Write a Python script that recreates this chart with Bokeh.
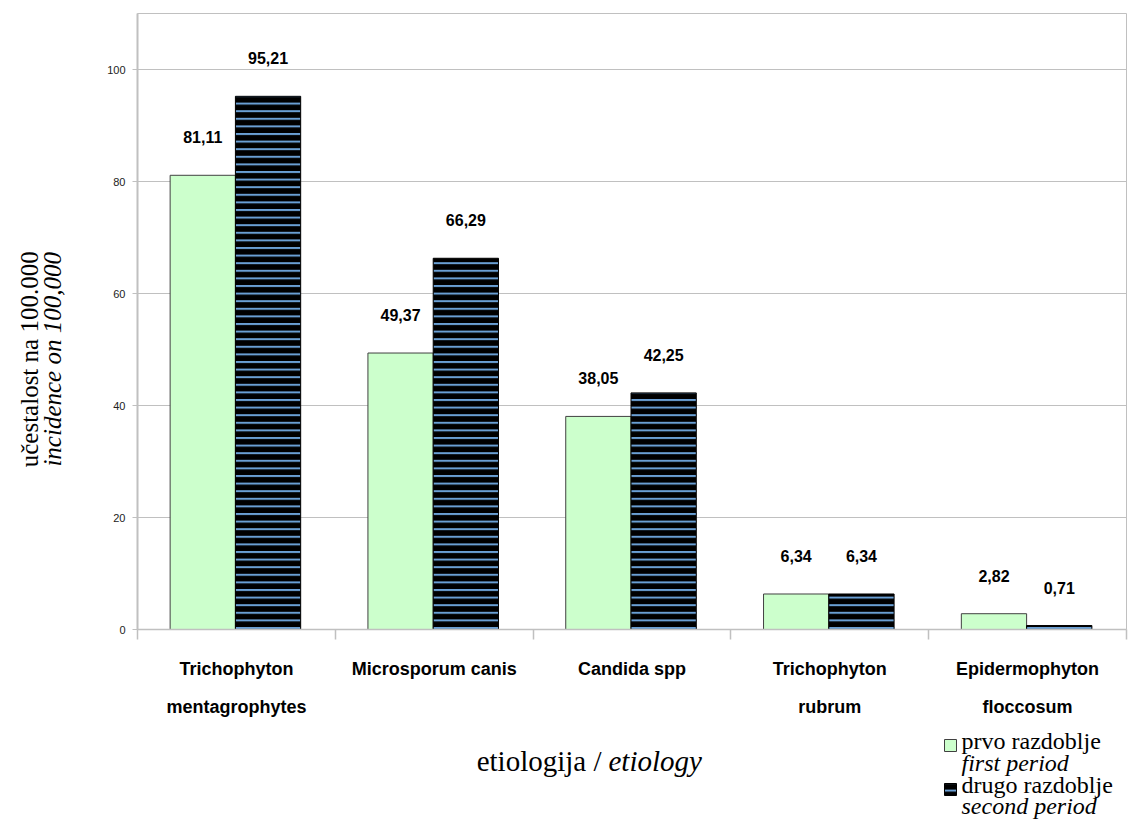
import math
from bokeh.plotting import figure
from bokeh.layouts import column, row
from bokeh.models import (Range1d, FixedTicker, Label, ColumnDataSource, LinearAxis)
from bokeh.core.properties import value
from bokeh.embed import file_html
from bokeh.resources import INLINE

# ---- data ----
categories = ["Trichophyton mentagrophytes", "Microsporum canis", "Candida spp",
              "Trichophyton rubrum", "Epidermophyton floccosum"]
label_line1 = ["Trichophyton", "Microsporum canis", "Candida spp", "Trichophyton", "Epidermophyton"]
label_line2 = ["mentagrophytes", "", "", "rubrum", "floccosum"]
first_period = [81.11, 49.37, 38.05, 6.34, 2.82]
second_period = [95.21, 66.29, 42.25, 6.34, 0.71]
first_labels = ["81,11", "49,37", "38,05", "6,34", "2,82"]
second_labels = ["95,21", "66,29", "42,25", "6,34", "0,71"]
y_ticks = [0, 20, 40, 60, 80, 100]
series_names = [("prvo razdoblje", "first period"), ("drugo razdoblje", "second period")]
y_title = ("učestalost na 100.000", "incidence on 100,000")
x_title = ("etiologija /", "etiology")

SANS = "Liberation Sans"
SERIF = "Liberation Serif"
GRAY = "#c0c0c0"
GREEN = "#CCFFCC"
HATCH = dict(fill_color="black", line_color="black", hatch_pattern="horizontal_line",
             hatch_color="#6A9FD4", hatch_weight=2, hatch_scale=7.6)

TOTAL_W, TOTAL_H = 1134, 820
LEFT_W = 90
MAIN_H = 725
n = len(categories)
idx = list(range(n))


def blank(width, height, x_range, y_range):
    f = figure(width=width, height=height, x_range=x_range, y_range=y_range,
               output_backend="svg", toolbar_location=None,
               x_axis_location=None, y_axis_location=None,
               min_border=0, min_border_left=0, min_border_right=0,
               min_border_top=0, min_border_bottom=0)
    f.outline_line_color = None
    f.xgrid.visible = False
    f.ygrid.visible = False
    f.background_fill_color = "white"
    f.border_fill_color = "white"
    return f


# ---------------- main plot ----------------
p = figure(width=TOTAL_W - LEFT_W, height=MAIN_H, x_range=Range1d(-0.5, n - 0.5),
           y_range=Range1d(0, 110), output_backend="svg", toolbar_location=None,
           min_border_left=137 - LEFT_W, min_border_right=8, min_border_top=13,
           min_border_bottom=MAIN_H - 629)
p.background_fill_color = "white"
p.border_fill_color = "white"
p.outline_line_color = GRAY
p.outline_line_width = 1

# x axis, line 1 of category names + separators
p.xaxis.ticker = FixedTicker(ticks=idx, minor_ticks=[i - 0.5 for i in range(n + 1)])
p.xaxis.major_label_overrides = {i: label_line1[i] for i in idx}
p.xaxis.major_tick_out = 0
p.xaxis.major_tick_in = 0
p.xaxis.major_tick_line_color = None
p.xaxis.minor_tick_out = 10
p.xaxis.minor_tick_in = 0
p.xaxis.minor_tick_line_color = GRAY
p.xaxis.minor_tick_line_width = 1.5
p.xaxis.axis_line_color = GRAY
p.xaxis.axis_line_width = 1.5
p.xaxis.major_label_standoff = 19
p.xaxis.major_label_text_font = SANS
p.xaxis.major_label_text_font_style = "bold"
p.xaxis.major_label_text_font_size = "18px"
p.xaxis.major_label_text_color = "black"
p.xgrid.grid_line_color = None

# x axis, line 2 of category names
ax2 = LinearAxis(ticker=FixedTicker(ticks=idx, minor_ticks=[]),
                 major_label_overrides={i: label_line2[i] for i in idx},
                 axis_line_color=None, major_tick_line_color=None,
                 minor_tick_line_color=None, major_tick_out=0, major_tick_in=0,
                 major_label_standoff=15, major_label_text_font=SANS,
                 major_label_text_font_style="bold", major_label_text_font_size="18px",
                 major_label_text_color="black")
p.add_layout(ax2, "below")

# y axis
p.yaxis.ticker = FixedTicker(ticks=y_ticks, minor_ticks=[])
p.yaxis.major_tick_out = 5
p.yaxis.major_tick_in = 0
p.yaxis.major_tick_line_color = GRAY
p.yaxis.axis_line_color = GRAY
p.yaxis.axis_line_width = 2
p.yaxis.major_label_text_font = SANS
p.yaxis.major_label_text_font_size = "11px"
p.yaxis.major_label_text_color = "#222222"
p.yaxis.major_label_standoff = 7
p.ygrid.ticker = FixedTicker(ticks=y_ticks)
p.ygrid.grid_line_color = GRAY
p.ygrid.grid_line_width = 1

src = ColumnDataSource(dict(
    x1=[i - 0.17 for i in idx], x2=[i + 0.16 for i in idx],
    first=first_period, second=second_period,
    l1=first_labels, l2=second_labels))

p.vbar(x="x1", top="first", width=0.33, source=src,
       fill_color=GREEN, line_color="#404040", line_width=1)
p.vbar(x="x2", top="second", width=0.33, source=src, line_width=1, **HATCH)

for xcol, ycol, tcol in (("x1", "first", "l1"), ("x2", "second", "l2")):
    p.text(x=xcol, y=ycol, text=tcol, source=src, y_offset=-38,
           text_align="center", text_baseline="middle",
           text_font=value(SANS), text_font_style="bold", text_font_size="16px",
           text_color="black")

# ---------------- left panel: y axis title ----------------
left = blank(LEFT_W, MAIN_H, Range1d(0, LEFT_W), Range1d(MAIN_H, 0))
left.text(x=[29], y=[407], text=[y_title[0]], angle=math.pi / 2,
          text_align="center", text_baseline="middle",
          text_font=value(SERIF), text_font_size="25px", text_color="black")
left.text(x=[52], y=[407], text=[y_title[1]], angle=math.pi / 2,
          text_align="center", text_baseline="middle",
          text_font=value(SERIF), text_font_style="italic", text_font_size="25px",
          text_color="black")

# ---------------- bottom panel: x title + legend ----------------
BOT_H = TOTAL_H - MAIN_H
bottom = blank(TOTAL_W, BOT_H, Range1d(0, TOTAL_W), Range1d(TOTAL_H, MAIN_H))
bottom.add_layout(Label(x=601, y=760, text=x_title[0], text_align="right",
                        text_baseline="middle", text_font=SERIF,
                        text_font_size="29px", text_color="black"))
bottom.add_layout(Label(x=608, y=760, text=x_title[1], text_align="left",
                        text_baseline="middle", text_font=SERIF, text_font_style="italic",
                        text_font_size="29px", text_color="black"))

LEG_X, LEG_BOX = 944, 12
LEG_ROWS = [739, 783]
sw_x = [LEG_X + LEG_BOX / 2] * 2
sw_y = [r + LEG_BOX / 2 for r in LEG_ROWS]
bottom.rect(x=sw_x[:1], y=sw_y[:1], width=LEG_BOX, height=LEG_BOX,
            fill_color=GREEN, line_color="#404040", line_width=1)
bottom.rect(x=sw_x[1:], y=sw_y[1:], width=LEG_BOX, height=LEG_BOX,
            line_width=1, **HATCH)

for (txt, style), yy in zip(((series_names[0][0], "normal"), (series_names[0][1], "italic"),
                             (series_names[1][0], "normal"), (series_names[1][1], "italic")),
                            (740, 762, 784, 805)):
    bottom.add_layout(Label(x=961, y=yy, text=txt, text_align="left", text_baseline="middle",
                            text_font=SERIF, text_font_style=style, text_font_size="24px",
                            text_color="black"))

layout = column(row(left, p), bottom)
open("out.html", "w").write(file_html(layout, INLINE))
